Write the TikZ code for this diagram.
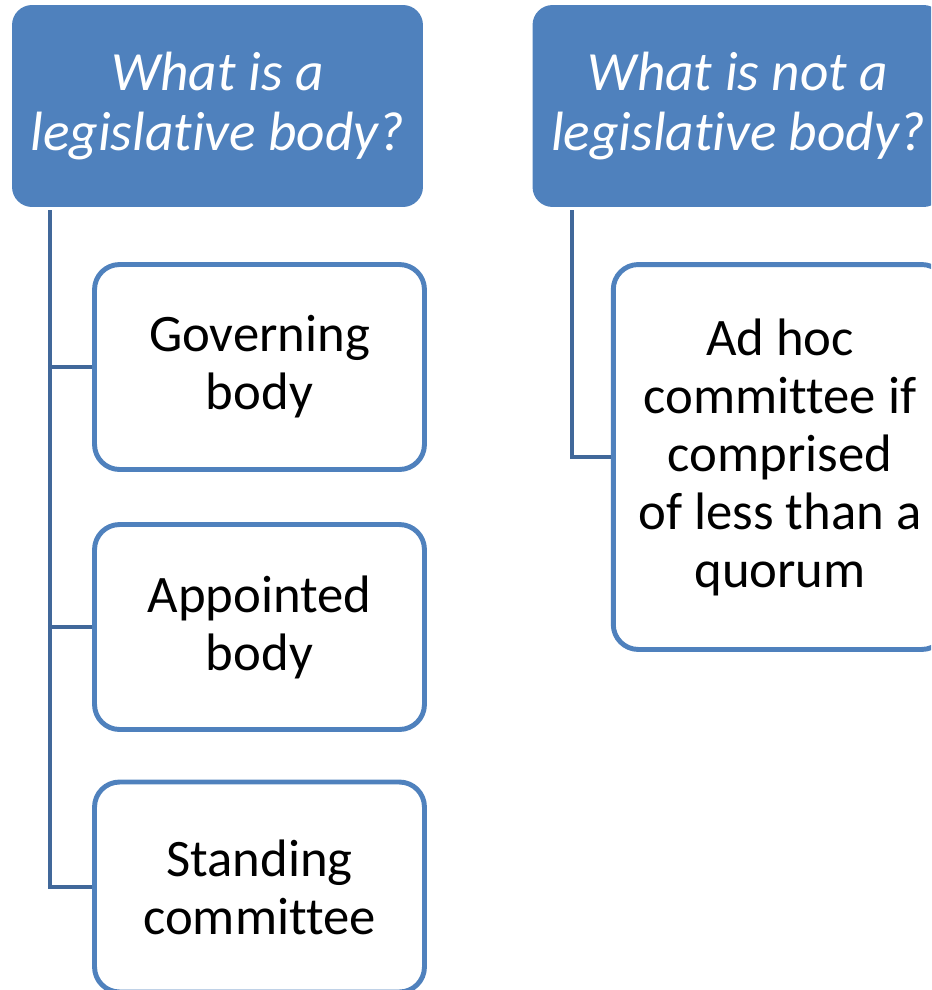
\documentclass[tikz,border=0pt]{standalone}
\usepackage{fontspec}
\setmainfont{Carlito}[Ligatures=NoCommon]
\definecolor{hdrblue}{HTML}{4F81BD}
\definecolor{lineblue}{HTML}{41689A}
\tikzset{
  header/.style={fill=hdrblue,rounded corners=20*0.02cm,minimum width=8.22cm,minimum height=4.04cm,
    align=center,text=white,font=\fontsize{31.5}{34}\selectfont\itshape},
  item/.style={draw=hdrblue,line width=2.8pt,fill=white,rounded corners=25*0.02cm,minimum width=6.6cm,
    minimum height=4.1cm,align=center,font=\fontsize{30}{33}\selectfont},
  conn/.style={draw=lineblue,line width=2.8pt}
}
\begin{document}
\begin{tikzpicture}[x=0.02cm,y=-0.02cm]
\useasboundingbox (0,0) rectangle (931,990);
\clip (0,0) rectangle (931,990);
% left column
\node[header] (is) at (217.5,106) {What is a\\legislative body?};
\node[item] (gov) at (259.5,367) {Governing\\body};
\node[item] (app) at (259.5,627) {Appointed\\body};
\node[item,minimum height=4.2cm] (stand) at (259.5,887) {Standing\\committee};
\coordinate (istop) at (50,210);
\draw[conn] (istop) |- (stand.west);
\draw[conn] (istop |- gov.west) -- (gov.west);
\draw[conn] (istop |- app.west) -- (app.west);
% right column
\node[header] (isnot) at (738,106) {What is not a\\legislative body?};
\node[item,minimum width=6.67cm,minimum height=7.7cm] (adhoc) at (780,457) {Ad hoc\\committee if\\comprised\\of less than a\\quorum};
\coordinate (nottop) at (572,210);
\draw[conn] (nottop) |- (adhoc.west);
\end{tikzpicture}
\end{document}
